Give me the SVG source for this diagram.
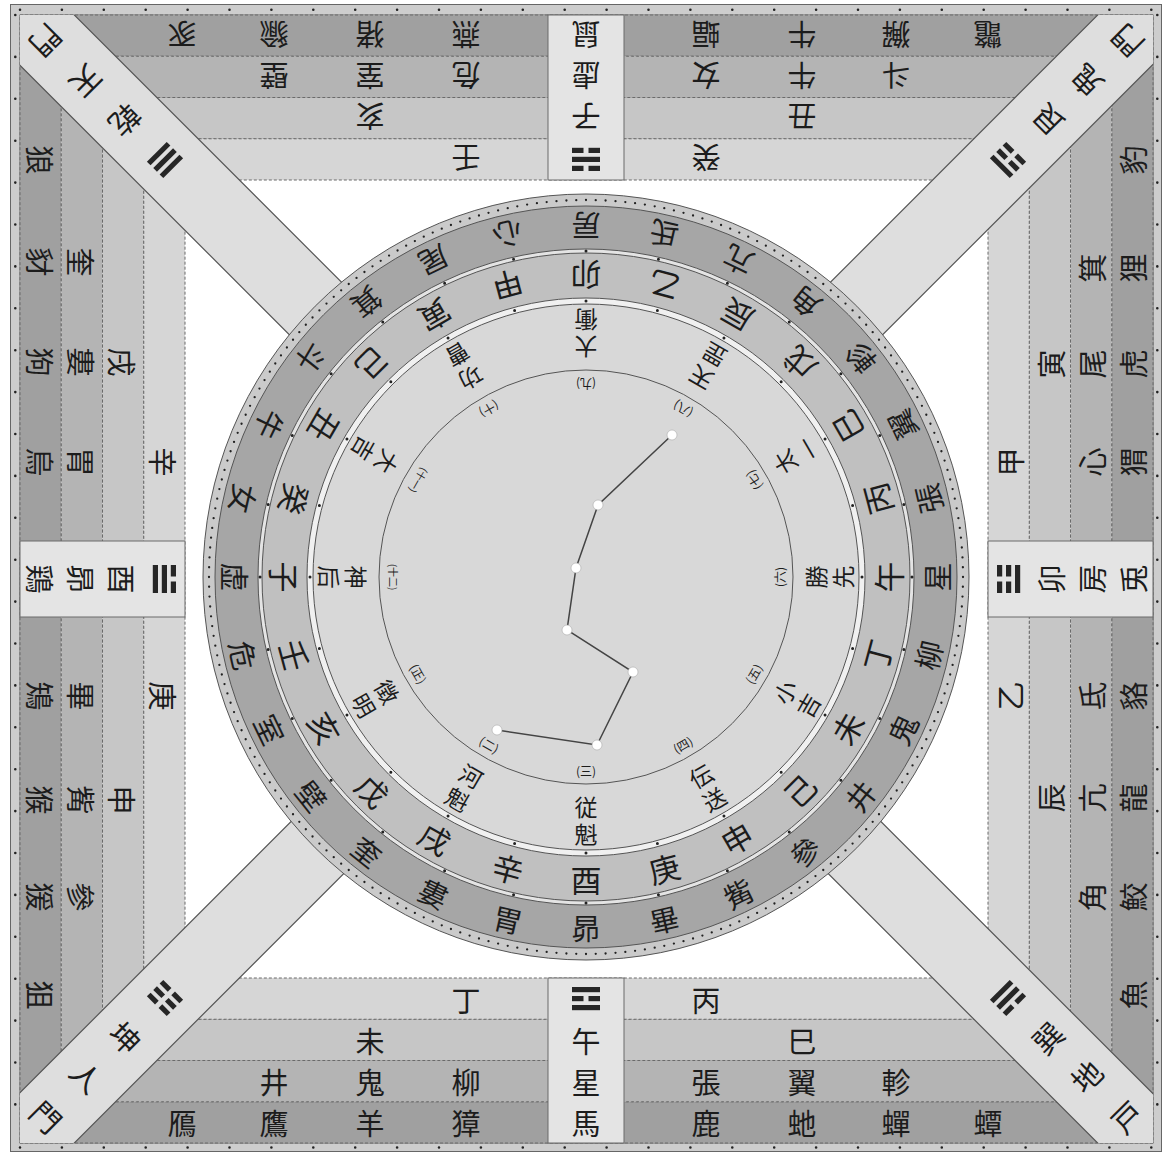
<svg xmlns="http://www.w3.org/2000/svg" width="1162" height="1155" viewBox="0 0 1162 1155">
<defs>
<style>
.t{font-family:"Noto Sans CJK JP","Noto Sans CJK SC",sans-serif;fill:#1c1c1c;text-anchor:middle;dominant-baseline:central}
.b{font-size:29px}
.d{font-size:30px}
.m{font-size:29px}
.s{font-size:31px}
.g{font-size:23px}
.n{font-size:12px}
.n2{font-size:10px}
.s0{fill:#a0a0a0}
.s1{fill:#b4b4b4}
.s2{fill:#c6c6c6}
.s3{fill:#d6d6d6}
.strip{stroke:#6a6a6a;stroke-width:1;stroke-dasharray:3 2}
.box{fill:#e4e4e4;stroke:#6a6a6a;stroke-width:1}
.diag{fill:#dedede;stroke:#555;stroke-width:1.2}
.tri{fill:#262626}
.dots{fill:none;stroke:#222;stroke-linecap:round}
.ring{stroke:#555;stroke-width:1}
</style>
<clipPath id="sq"><rect x="20" y="15" width="1133" height="1128"/></clipPath>
<g id="yang"><rect x="-14" y="-2.6" width="28" height="5.2"/></g>
<g id="yin"><rect x="-14" y="-2.6" width="11.5" height="5.2"/><rect x="2.5" y="-2.6" width="11.5" height="5.2"/></g>
<g id="kan" class="tri"><use href="#yin" y="-9"/><use href="#yang"/><use href="#yin" y="9"/></g>
<g id="li" class="tri"><use href="#yang" y="-9"/><use href="#yin"/><use href="#yang" y="9"/></g>
<g id="qian" class="tri"><use href="#yang" y="-9"/><use href="#yang"/><use href="#yang" y="9"/></g>
<g id="kun" class="tri"><use href="#yin" y="-9"/><use href="#yin"/><use href="#yin" y="9"/></g>
<g id="gen" class="tri"><use href="#yang" y="-9"/><use href="#yin"/><use href="#yin" y="9"/></g>
<g id="zhen" class="tri"><use href="#yin" y="-9"/><use href="#yin"/><use href="#yang" y="9"/></g>
<g id="xun" class="tri"><use href="#yang" y="-9"/><use href="#yang"/><use href="#yin" y="9"/></g>
<g id="dui" class="tri"><use href="#yin" y="-9"/><use href="#yang"/><use href="#yang" y="9"/></g>
</defs>

<rect width="1162" height="1155" fill="#fff"/>

<g id="frame">
<rect x="10.5" y="4.5" width="1151" height="1147" fill="#cdcdcd" stroke="#666" stroke-width="1"/>
<rect x="20" y="15" width="1133" height="1128" fill="#fff" stroke="#666" stroke-width="1"/>
<path class="dots" stroke-width="2.6" stroke-dasharray="0 41.9" d="M20 9.8H1157M20 1147.5H1157M15.3 15V1143M1157.3 15V1143"/>
</g>

<g id="north-band">
<polygon class="strip s0" points="20,15 1153,15 1111.75,56.25 61.25,56.25"/>
<polygon class="strip s1" points="61.25,56.25 1111.75,56.25 1070.5,97.5 102.5,97.5"/>
<polygon class="strip s2" points="102.5,97.5 1070.5,97.5 1029.25,138.75 143.75,138.75"/>
<polygon class="strip s3" points="143.75,138.75 1029.25,138.75 988,180 185,180"/>
</g>
<g id="south-band">
<polygon class="strip s0" points="20,1143 1153,1143 1111.75,1101.75 61.25,1101.75"/>
<polygon class="strip s1" points="61.25,1101.75 1111.75,1101.75 1070.5,1060.5 102.5,1060.5"/>
<polygon class="strip s2" points="102.5,1060.5 1070.5,1060.5 1029.25,1019.25 143.75,1019.25"/>
<polygon class="strip s3" points="143.75,1019.25 1029.25,1019.25 988,978 185,978"/>
</g>
<g id="west-band">
<polygon class="strip s0" points="20,15 61.25,56.25 61.25,1101.75 20,1143"/>
<polygon class="strip s1" points="61.25,56.25 102.5,97.5 102.5,1060.5 61.25,1101.75"/>
<polygon class="strip s2" points="102.5,97.5 143.75,138.75 143.75,1019.25 102.5,1060.5"/>
<polygon class="strip s3" points="143.75,138.75 185,180 185,978 143.75,1019.25"/>
</g>
<g id="east-band">
<polygon class="strip s0" points="1153,15 1111.75,56.25 1111.75,1101.75 1153,1143"/>
<polygon class="strip s1" points="1111.75,56.25 1070.5,97.5 1070.5,1060.5 1111.75,1101.75"/>
<polygon class="strip s2" points="1070.5,97.5 1029.25,138.75 1029.25,1019.25 1070.5,1060.5"/>
<polygon class="strip s3" points="1029.25,138.75 988,180 988,978 1029.25,1019.25"/>
</g>

<g id="diagonals" clip-path="url(#sq)">
<rect class="diag" x="0" y="-37" width="850" height="74" transform="translate(586 579) rotate(-135)"/>
<rect class="diag" x="0" y="-37" width="850" height="74" transform="translate(586 579) rotate(-45)"/>
<rect class="diag" x="0" y="-37" width="850" height="74" transform="translate(586 579) rotate(45)"/>
<rect class="diag" x="0" y="-37" width="850" height="74" transform="translate(586 579) rotate(135)"/>
</g>

<g id="box-north">
<rect class="box" x="548" y="15" width="76" height="165"/>
<text class="t b" transform="translate(586 35.6) rotate(180)">鼠</text>
<text class="t b" transform="translate(586 76.9) rotate(180)">虚</text>
<text class="t b" transform="translate(586 118.1) rotate(180)">子</text>
<use href="#kan" transform="translate(586 159.4) rotate(180)"/>
</g>
<g id="box-south">
<rect class="box" x="548" y="978" width="76" height="165"/>
<use href="#li" transform="translate(586 998.6)"/>
<text class="t b" x="586" y="1039.9">午</text>
<text class="t b" x="586" y="1081.1">星</text>
<text class="t b" x="586" y="1122.4">馬</text>
</g>
<g id="box-west">
<rect class="box" x="20" y="541" width="165" height="76"/>
<text class="t b" transform="translate(40.6 579) rotate(90)">鶏</text>
<text class="t b" transform="translate(81.9 579) rotate(90)">昴</text>
<text class="t b" transform="translate(123.1 579) rotate(90)">酉</text>
<use href="#dui" transform="translate(164.4 579) rotate(90)"/>
</g>
<g id="box-east">
<rect class="box" x="988" y="541" width="165" height="76"/>
<use href="#zhen" transform="translate(1008.6 579) rotate(-90)"/>
<text class="t b" transform="translate(1049.9 579) rotate(-90)">卯</text>
<text class="t b" transform="translate(1091.1 579) rotate(-90)">房</text>
<text class="t b" transform="translate(1132.4 579) rotate(-90)">兎</text>
</g>

<g id="north-text">
<text class="t b" transform="translate(182 35.6) rotate(180)">豕</text>
<text class="t b" transform="translate(274 35.6) rotate(180)">貐</text>
<text class="t b" transform="translate(370 35.6) rotate(180)">猪</text>
<text class="t b" transform="translate(466 35.6) rotate(180)">燕</text>
<text class="t b" transform="translate(706 35.6) rotate(180)">蝠</text>
<text class="t b" transform="translate(802 35.6) rotate(180)">牛</text>
<text class="t b" transform="translate(896 35.6) rotate(180)">獬</text>
<text class="t b" transform="translate(988 35.6) rotate(180)">鼈</text>
<text class="t b" transform="translate(274 76.9) rotate(180)">壁</text>
<text class="t b" transform="translate(370 76.9) rotate(180)">室</text>
<text class="t b" transform="translate(466 76.9) rotate(180)">危</text>
<text class="t b" transform="translate(706 76.9) rotate(180)">女</text>
<text class="t b" transform="translate(802 76.9) rotate(180)">牛</text>
<text class="t b" transform="translate(896 76.9) rotate(180)">斗</text>
<text class="t b" transform="translate(370 118.1) rotate(180)">亥</text>
<text class="t b" transform="translate(802 118.1) rotate(180)">丑</text>
<text class="t b" transform="translate(466 159.4) rotate(180)">壬</text>
<text class="t b" transform="translate(706 159.4) rotate(180)">癸</text>
</g>
<g id="south-text">
<text class="t b" x="466" y="998.6">丁</text>
<text class="t b" x="706" y="998.6">丙</text>
<text class="t b" x="370" y="1039.9">未</text>
<text class="t b" x="802" y="1039.9">巳</text>
<text class="t b" x="274" y="1081.1">井</text>
<text class="t b" x="370" y="1081.1">鬼</text>
<text class="t b" x="466" y="1081.1">柳</text>
<text class="t b" x="706" y="1081.1">張</text>
<text class="t b" x="802" y="1081.1">翼</text>
<text class="t b" x="896" y="1081.1">軫</text>
<text class="t b" x="182" y="1122.4">鴈</text>
<text class="t b" x="274" y="1122.4">鷹</text>
<text class="t b" x="370" y="1122.4">羊</text>
<text class="t b" x="466" y="1122.4">獐</text>
<text class="t b" x="706" y="1122.4">鹿</text>
<text class="t b" x="802" y="1122.4">虵</text>
<text class="t b" x="896" y="1122.4">蟬</text>
<text class="t b" x="988" y="1122.4">蟫</text>
</g>
<g id="west-text">
<text class="t b" transform="translate(164.4 462) rotate(90)">辛</text>
<text class="t b" transform="translate(164.4 696) rotate(90)">庚</text>
<text class="t b" transform="translate(123.1 362) rotate(90)">戌</text>
<text class="t b" transform="translate(123.1 800) rotate(90)">申</text>
<text class="t b" transform="translate(81.9 262) rotate(90)">奎</text>
<text class="t b" transform="translate(81.9 362) rotate(90)">婁</text>
<text class="t b" transform="translate(81.9 462) rotate(90)">胃</text>
<text class="t b" transform="translate(81.9 696) rotate(90)">畢</text>
<text class="t b" transform="translate(81.9 800) rotate(90)">觜</text>
<text class="t b" transform="translate(81.9 897) rotate(90)">參</text>
<text class="t b" transform="translate(40.6 160) rotate(90)">狼</text>
<text class="t b" transform="translate(40.6 262) rotate(90)">豺</text>
<text class="t b" transform="translate(40.6 362) rotate(90)">狗</text>
<text class="t b" transform="translate(40.6 462) rotate(90)">烏</text>
<text class="t b" transform="translate(40.6 696) rotate(90)">鴙</text>
<text class="t b" transform="translate(40.6 800) rotate(90)">猴</text>
<text class="t b" transform="translate(40.6 897) rotate(90)">猨</text>
<text class="t b" transform="translate(40.6 995) rotate(90)">狙</text>
</g>
<g id="east-text">
<text class="t b" transform="translate(1008.6 462) rotate(-90)">甲</text>
<text class="t b" transform="translate(1008.6 696) rotate(-90)">乙</text>
<text class="t b" transform="translate(1049.9 364) rotate(-90)">寅</text>
<text class="t b" transform="translate(1049.9 798) rotate(-90)">辰</text>
<text class="t b" transform="translate(1091.1 268) rotate(-90)">箕</text>
<text class="t b" transform="translate(1091.1 364) rotate(-90)">尾</text>
<text class="t b" transform="translate(1091.1 462) rotate(-90)">心</text>
<text class="t b" transform="translate(1091.1 696) rotate(-90)">氐</text>
<text class="t b" transform="translate(1091.1 798) rotate(-90)">亢</text>
<text class="t b" transform="translate(1091.1 897) rotate(-90)">角</text>
<text class="t b" transform="translate(1132.4 160) rotate(-90)">豹</text>
<text class="t b" transform="translate(1132.4 268) rotate(-90)">狸</text>
<text class="t b" transform="translate(1132.4 364) rotate(-90)">虎</text>
<text class="t b" transform="translate(1132.4 462) rotate(-90)">猬</text>
<text class="t b" transform="translate(1132.4 696) rotate(-90)">貉</text>
<text class="t b" transform="translate(1132.4 798) rotate(-90)">龍</text>
<text class="t b" transform="translate(1132.4 897) rotate(-90)">鮫</text>
<text class="t b" transform="translate(1132.4 995) rotate(-90)">魚</text>
</g>

<g id="corner-nw">
<text class="t d" transform="translate(46.9 41.9) rotate(135)">門</text>
<text class="t d" transform="translate(87.2 82.2) rotate(135)">天</text>
<text class="t d" transform="translate(126 121) rotate(135)">乾</text>
<use href="#qian" transform="translate(165 160) rotate(135)"/>
</g>
<g id="corner-ne">
<text class="t d" transform="translate(1126.1 41.9) rotate(-135)">門</text>
<text class="t d" transform="translate(1085.8 82.2) rotate(-135)">鬼</text>
<text class="t d" transform="translate(1047 121) rotate(-135)">艮</text>
<use href="#gen" transform="translate(1008 160) rotate(-135)"/>
</g>
<g id="corner-sw">
<text class="t d" transform="translate(46.9 1116.1) rotate(45)">門</text>
<text class="t d" transform="translate(87.2 1075.8) rotate(45)">人</text>
<text class="t d" transform="translate(126 1037) rotate(45)">坤</text>
<use href="#kun" transform="translate(165 998) rotate(45)"/>
</g>
<g id="corner-se">
<text class="t d" transform="translate(1126.1 1116.1) rotate(-45)">戸</text>
<text class="t d" transform="translate(1085.8 1075.8) rotate(-45)">地</text>
<text class="t d" transform="translate(1047 1037) rotate(-45)">巽</text>
<use href="#xun" transform="translate(1008 998) rotate(-45)"/>
</g>

<g id="heaven-plate">
<circle class="ring" cx="586" cy="577" r="383" fill="#cacaca"/>
<circle class="dots" cx="586" cy="577" r="377" stroke-width="2.3" stroke-dasharray="0 1" pathLength="240"/>
<circle class="ring" cx="586" cy="577" r="371" fill="#a6a6a6"/>
<circle class="ring" cx="586" cy="577" r="328" fill="#e4e4e4"/>
<circle class="ring" cx="586" cy="577" r="324" fill="#c0c0c0"/>
<circle class="dots" cx="586" cy="577" r="326" stroke-width="3" stroke-dasharray="0 1" pathLength="28"/>
<circle class="ring" cx="586" cy="577" r="279" fill="#f0f0f0"/>
<circle class="ring" cx="586" cy="577" r="273" fill="#d8d8d8"/>
<circle class="dots" cx="586" cy="577" r="276" stroke-width="3" stroke-dasharray="0 1" pathLength="24"/>
<circle class="ring" cx="586" cy="577" r="207" fill="none"/>
</g>

<g id="mansions">
<text class="t m" transform="rotate(0 586 577) translate(586 227) rotate(180)">房</text>
<text class="t m" transform="rotate(12.857 586 577) translate(586 227) rotate(180)">氐</text>
<text class="t m" transform="rotate(25.714 586 577) translate(586 227) rotate(180)">亢</text>
<text class="t m" transform="rotate(38.571 586 577) translate(586 227) rotate(180)">角</text>
<text class="t m" transform="rotate(51.429 586 577) translate(586 227) rotate(180)">軫</text>
<text class="t m" transform="rotate(64.286 586 577) translate(586 227) rotate(180)">翼</text>
<text class="t m" transform="rotate(77.143 586 577) translate(586 227) rotate(180)">張</text>
<text class="t m" transform="rotate(90 586 577) translate(586 227) rotate(180)">星</text>
<text class="t m" transform="rotate(102.857 586 577) translate(586 227) rotate(180)">柳</text>
<text class="t m" transform="rotate(115.714 586 577) translate(586 227) rotate(180)">鬼</text>
<text class="t m" transform="rotate(128.571 586 577) translate(586 227) rotate(180)">井</text>
<text class="t m" transform="rotate(141.429 586 577) translate(586 227) rotate(180)">參</text>
<text class="t m" transform="rotate(154.286 586 577) translate(586 227) rotate(180)">觜</text>
<text class="t m" transform="rotate(167.143 586 577) translate(586 227) rotate(180)">畢</text>
<text class="t m" transform="rotate(180 586 577) translate(586 227) rotate(180)">昴</text>
<text class="t m" transform="rotate(192.857 586 577) translate(586 227) rotate(180)">胃</text>
<text class="t m" transform="rotate(205.714 586 577) translate(586 227) rotate(180)">婁</text>
<text class="t m" transform="rotate(218.571 586 577) translate(586 227) rotate(180)">奎</text>
<text class="t m" transform="rotate(231.429 586 577) translate(586 227) rotate(180)">壁</text>
<text class="t m" transform="rotate(244.286 586 577) translate(586 227) rotate(180)">室</text>
<text class="t m" transform="rotate(257.143 586 577) translate(586 227) rotate(180)">危</text>
<text class="t m" transform="rotate(270 586 577) translate(586 227) rotate(180)">虚</text>
<text class="t m" transform="rotate(282.857 586 577) translate(586 227) rotate(180)">女</text>
<text class="t m" transform="rotate(295.714 586 577) translate(586 227) rotate(180)">牛</text>
<text class="t m" transform="rotate(308.571 586 577) translate(586 227) rotate(180)">斗</text>
<text class="t m" transform="rotate(321.429 586 577) translate(586 227) rotate(180)">箕</text>
<text class="t m" transform="rotate(334.286 586 577) translate(586 227) rotate(180)">尾</text>
<text class="t m" transform="rotate(347.143 586 577) translate(586 227) rotate(180)">心</text>
</g>

<g id="stems">
<text class="t s" transform="rotate(0 586 577) translate(586 276) rotate(180)">卯</text>
<text class="t s" transform="rotate(15 586 577) translate(586 276) rotate(180)">乙</text>
<text class="t s" transform="rotate(30 586 577) translate(586 276) rotate(180)">辰</text>
<text class="t s" transform="rotate(45 586 577) translate(586 276) rotate(180)">戊</text>
<text class="t s" transform="rotate(60 586 577) translate(586 276) rotate(180)">巳</text>
<text class="t s" transform="rotate(75 586 577) translate(586 276) rotate(180)">丙</text>
<text class="t s" transform="rotate(90 586 577) translate(586 276) rotate(180)">午</text>
<text class="t s" transform="rotate(105 586 577) translate(586 276) rotate(180)">丁</text>
<text class="t s" transform="rotate(120 586 577) translate(586 276) rotate(180)">未</text>
<text class="t s" transform="rotate(135 586 577) translate(586 276) rotate(180)">己</text>
<text class="t s" transform="rotate(150 586 577) translate(586 276) rotate(180)">申</text>
<text class="t s" transform="rotate(165 586 577) translate(586 276) rotate(180)">庚</text>
<text class="t s" transform="rotate(180 586 577) translate(586 276) rotate(180)">酉</text>
<text class="t s" transform="rotate(195 586 577) translate(586 276) rotate(180)">辛</text>
<text class="t s" transform="rotate(210 586 577) translate(586 276) rotate(180)">戌</text>
<text class="t s" transform="rotate(225 586 577) translate(586 276) rotate(180)">戊</text>
<text class="t s" transform="rotate(240 586 577) translate(586 276) rotate(180)">亥</text>
<text class="t s" transform="rotate(255 586 577) translate(586 276) rotate(180)">壬</text>
<text class="t s" transform="rotate(270 586 577) translate(586 276) rotate(180)">子</text>
<text class="t s" transform="rotate(285 586 577) translate(586 276) rotate(180)">癸</text>
<text class="t s" transform="rotate(300 586 577) translate(586 276) rotate(180)">丑</text>
<text class="t s" transform="rotate(315 586 577) translate(586 276) rotate(180)">己</text>
<text class="t s" transform="rotate(330 586 577) translate(586 276) rotate(180)">寅</text>
<text class="t s" transform="rotate(345 586 577) translate(586 276) rotate(180)">甲</text>
</g>

<g id="generals">
<text class="t g" transform="rotate(0 586 577) translate(586 348) rotate(180)">大</text>
<text class="t g" transform="rotate(0 586 577) translate(586 321) rotate(180)">衝</text>
<text class="t n" transform="rotate(0 586 577) translate(586 384) rotate(180)">(九)</text>
<text class="t g" transform="rotate(30 586 577) translate(586 348) rotate(180)">天</text>
<text class="t g" transform="rotate(30 586 577) translate(586 321) rotate(180)">罡</text>
<text class="t n" transform="rotate(30 586 577) translate(586 384) rotate(180)">(八)</text>
<text class="t g" transform="rotate(60 586 577) translate(586 348) rotate(180)">太</text>
<text class="t g" transform="rotate(60 586 577) translate(586 321) rotate(180)">一</text>
<text class="t n" transform="rotate(60 586 577) translate(586 384) rotate(180)">(七)</text>
<text class="t g" transform="rotate(90 586 577) translate(586 348) rotate(180)">勝</text>
<text class="t g" transform="rotate(90 586 577) translate(586 321) rotate(180)">先</text>
<text class="t n" transform="rotate(90 586 577) translate(586 384) rotate(180)">(六)</text>
<text class="t g" transform="rotate(120 586 577) translate(586 348) rotate(180)">小</text>
<text class="t g" transform="rotate(120 586 577) translate(586 321) rotate(180)">吉</text>
<text class="t n" transform="rotate(120 586 577) translate(586 384) rotate(180)">(五)</text>
<text class="t g" transform="rotate(150 586 577) translate(586 348) rotate(180)">伝</text>
<text class="t g" transform="rotate(150 586 577) translate(586 321) rotate(180)">送</text>
<text class="t n" transform="rotate(150 586 577) translate(586 384) rotate(180)">(四)</text>
<text class="t g" transform="rotate(180 586 577) translate(586 348) rotate(180)">従</text>
<text class="t g" transform="rotate(180 586 577) translate(586 321) rotate(180)">魁</text>
<text class="t n" transform="rotate(180 586 577) translate(586 384) rotate(180)">(三)</text>
<text class="t g" transform="rotate(210 586 577) translate(586 348) rotate(180)">河</text>
<text class="t g" transform="rotate(210 586 577) translate(586 321) rotate(180)">魁</text>
<text class="t n" transform="rotate(210 586 577) translate(586 384) rotate(180)">(二)</text>
<text class="t g" transform="rotate(240 586 577) translate(586 348) rotate(180)">徴</text>
<text class="t g" transform="rotate(240 586 577) translate(586 321) rotate(180)">明</text>
<text class="t n" transform="rotate(240 586 577) translate(586 384) rotate(180)">(正)</text>
<text class="t g" transform="rotate(270 586 577) translate(586 348) rotate(180)">神</text>
<text class="t g" transform="rotate(270 586 577) translate(586 321) rotate(180)">后</text>
<text class="t n2" transform="rotate(270 586 577) translate(586 384) rotate(180)">(十二)</text>
<text class="t g" transform="rotate(300 586 577) translate(586 348) rotate(180)">大</text>
<text class="t g" transform="rotate(300 586 577) translate(586 321) rotate(180)">吉</text>
<text class="t n2" transform="rotate(300 586 577) translate(586 384) rotate(180)">(十一)</text>
<text class="t g" transform="rotate(330 586 577) translate(586 348) rotate(180)">功</text>
<text class="t g" transform="rotate(330 586 577) translate(586 321) rotate(180)">曹</text>
<text class="t n" transform="rotate(330 586 577) translate(586 384) rotate(180)">(十)</text>
</g>

<g id="connectors">
<polyline points="672,435 598,505 576,568 567,630 633,672 597,745 497,730" fill="none" stroke="#444" stroke-width="1.5"/>
</g>
<g id="dipper-stars" fill="#fff" stroke="#aaa" stroke-width="0.6">
<circle cx="672" cy="435" r="5"/>
<circle cx="598" cy="505" r="5"/>
<circle cx="576" cy="568" r="5"/>
<circle cx="567" cy="630" r="5"/>
<circle cx="633" cy="672" r="5"/>
<circle cx="597" cy="745" r="5"/>
<circle cx="497" cy="730" r="5"/>
</g>
</svg>
